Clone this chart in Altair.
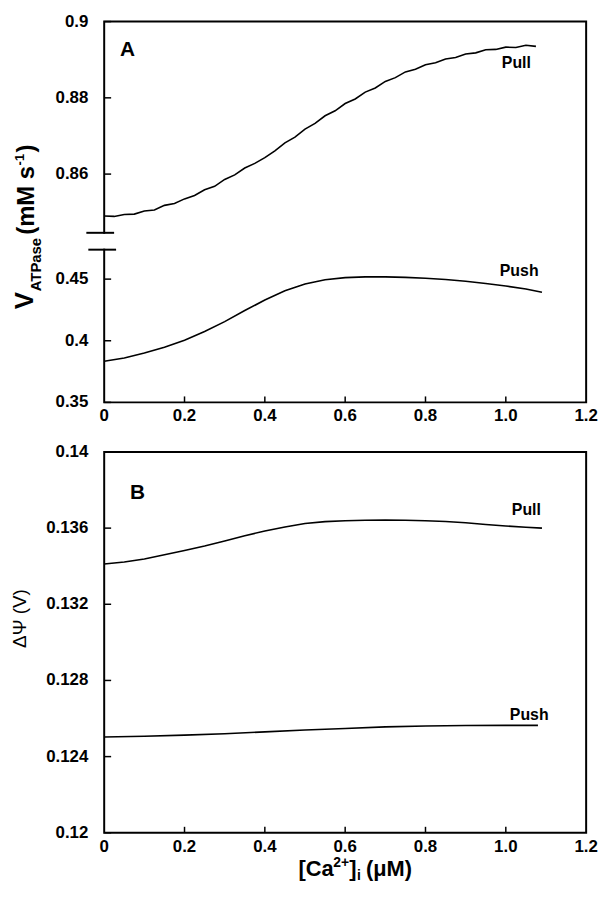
import altair as alt
import pandas as pd

FONT = "Liberation Sans"

# ---------------- data ----------------
x_ticks = [0, 0.2, 0.4, 0.6, 0.8, 1.0, 1.2]
x_labels = ["0", "0.2", "0.4", "0.6", "0.8", "1.0", "1.2"]
x_inner_ticks = [0.2, 0.4, 0.6, 0.8, 1.0]
yA_ticks = [0.35, 0.4, 0.45, 0.86, 0.88, 0.9]
yA_labels = ["0.35", "0.4", "0.45", "0.86", "0.88", "0.9"]
yB_ticks = [0.12, 0.124, 0.128, 0.132, 0.136, 0.14]
yB_labels = ["0.12", "0.124", "0.128", "0.132", "0.136", "0.14"]

# Panel A, "Pull" (V_ATPase, mM/s)
pullA_x = [0.000, 0.025, 0.050, 0.075, 0.100, 0.125, 0.150, 0.175, 0.200, 0.225,
           0.250, 0.275, 0.300, 0.325, 0.350, 0.375, 0.400, 0.425, 0.450, 0.475,
           0.500, 0.525, 0.550, 0.575, 0.600, 0.625, 0.650, 0.675, 0.700, 0.725,
           0.750, 0.775, 0.800, 0.825, 0.850, 0.875, 0.900, 0.925, 0.950, 0.975,
           1.000, 1.025, 1.050, 1.075]
pullA_v = [0.8490, 0.8489, 0.8494, 0.8495, 0.8503, 0.8506, 0.8518, 0.8523, 0.8535, 0.8544,
           0.8559, 0.8568, 0.8586, 0.8598, 0.8616, 0.8628, 0.8643, 0.8661, 0.8682, 0.8697,
           0.8718, 0.8733, 0.8753, 0.8766, 0.8785, 0.8797, 0.8815, 0.8826, 0.8843, 0.8853,
           0.8868, 0.8875, 0.8887, 0.8892, 0.8902, 0.8906, 0.8915, 0.8918, 0.8926, 0.8927,
           0.8933, 0.8932, 0.8938, 0.8935]

# Panel A, "Push"
pushA_x = [0.00, 0.05, 0.10, 0.15, 0.20, 0.25, 0.30, 0.35, 0.40, 0.45, 0.50, 0.55,
           0.60, 0.65, 0.70, 0.75, 0.80, 0.85, 0.90, 0.95, 1.00, 1.05, 1.09]
pushA_v = [0.3834, 0.3860, 0.3900, 0.3948, 0.4005, 0.4075, 0.4155, 0.4245, 0.4330, 0.4405,
           0.4460, 0.4495, 0.4512, 0.4518, 0.4518, 0.4514, 0.4507, 0.4497, 0.4483, 0.4465,
           0.4444, 0.4420, 0.4393]

# Panel B, "Pull" (delta Psi, V)
pullB_x = [0.00, 0.05, 0.10, 0.15, 0.20, 0.25, 0.30, 0.35, 0.40, 0.45, 0.50, 0.55,
           0.60, 0.65, 0.70, 0.75, 0.80, 0.85, 0.90, 0.95, 1.00, 1.05, 1.09]
pullB_v = [0.13412, 0.13422, 0.13438, 0.13460, 0.13483, 0.13506, 0.13532, 0.13560,
           0.13585, 0.13606, 0.13624, 0.13634, 0.13639, 0.13641, 0.13642, 0.13641,
           0.13639, 0.13635, 0.13628, 0.13619, 0.13611, 0.13605, 0.13600]

# Panel B, "Push"
pushB_x = [0.00, 0.10, 0.20, 0.30, 0.40, 0.50, 0.60, 0.70, 0.80, 0.90, 1.00, 1.08]
pushB_v = [0.12503, 0.12507, 0.12513, 0.12520, 0.12530, 0.12540, 0.12548, 0.12556,
           0.12561, 0.12563, 0.12564, 0.12564]

# curve labels: text, x, y (data units)
labA_text = ["Pull", "Push"]
labA_x = [0.99, 0.985]
labA_y = [0.8877, 0.4524]
labB_text = ["Pull", "Push"]
labB_x = [1.015, 1.01]
labB_y = [0.13667, 0.12590]

# ---------------- layout ----------------
W, H = 486, 384
GAP = 50
BRK_TOP, BRK_BOT = 213, 230          # pixel rows of the axis break in panel A
A_lo_max, A_hi_min = 0.4739, 0.8446  # values at the break rows

xscale = alt.Scale(domain=[0, 1.2], nice=False, zero=False)
yscaleA = alt.Scale(domain=[0.35, A_lo_max, A_hi_min, 0.9],
                    range=[H, BRK_BOT, BRK_TOP, 0], nice=False, zero=False)
yscaleB = alt.Scale(domain=[0.12, 0.14], nice=False, zero=False)

one = pd.DataFrame({"k": [0]})
LBL = dict(font=FONT, fontSize=17, fontWeight="bold", color="black")


def txt(s, x, y, size, weight="bold", angle=0, align="left", baseline="alphabetic"):
    kw = dict(text=s, font=FONT, fontSize=size, fontWeight=weight, color="black",
              align=align, baseline=baseline)
    if angle:
        kw["angle"] = angle
    return alt.Chart(one).mark_text(**kw).encode(x=alt.value(x), y=alt.value(y))


def panel(df, yscale, yticks, ylabels, labs):
    lines = alt.Chart(df).mark_line(color="black", strokeWidth=1.6).encode(
        x=alt.X("x:Q", scale=xscale, axis=None),
        y=alt.Y("v:Q", scale=yscale, axis=None),
        detail="series:N",
    )
    xt = alt.Chart(pd.DataFrame({"t": x_inner_ticks})).mark_rule(
        color="black", strokeWidth=1.5).encode(
        x=alt.X("t:Q", scale=xscale, axis=None),
        y=alt.value(H), y2=alt.value(H - 6))
    yt = alt.Chart(pd.DataFrame({"t": yticks})).mark_rule(
        color="black", strokeWidth=1.5).encode(
        y=alt.Y("t:Q", scale=yscale, axis=None),
        x=alt.value(0), x2=alt.value(7))
    xl = alt.Chart(pd.DataFrame({"t": x_ticks, "s": x_labels})).mark_text(
        align="center", baseline="top", **LBL).encode(
        x=alt.X("t:Q", scale=xscale, axis=None),
        y=alt.value(H + 6), text="s:N")
    yl = alt.Chart(pd.DataFrame({"t": yticks, "s": ylabels})).mark_text(
        align="right", baseline="middle", **LBL).encode(
        y=alt.Y("t:Q", scale=yscale, axis=None),
        x=alt.value(-16), text="s:N")
    labels = alt.Chart(labs).mark_text(
        font=FONT, fontSize=16, fontWeight="bold", color="black",
        align="left", baseline="alphabetic").encode(
        x=alt.X("lx:Q", scale=xscale, axis=None),
        y=alt.Y("ly:Q", scale=yscale, axis=None),
        text="lab:N")
    return [lines, xt, yt, xl, yl, labels]


dfA = pd.concat([
    pd.DataFrame({"x": pullA_x, "v": pullA_v, "series": "Pull"}),
    pd.DataFrame({"x": pushA_x, "v": pushA_v, "series": "Push"}),
])
dfB = pd.concat([
    pd.DataFrame({"x": pullB_x, "v": pullB_v, "series": "Pull"}),
    pd.DataFrame({"x": pushB_x, "v": pushB_v, "series": "Push"}),
])
labsA = pd.DataFrame({"lab": labA_text, "lx": labA_x, "ly": labA_y})
labsB = pd.DataFrame({"lab": labB_text, "lx": labB_x, "ly": labB_y})

# axis break in panel A: white gap over the frame plus two short dashes
breakA = [
    alt.Chart(one).mark_rect(color="white").encode(
        x=alt.value(-3), x2=alt.value(3),
        y=alt.value(BRK_TOP + 1), y2=alt.value(BRK_BOT - 1)),
    alt.Chart(one).mark_rule(color="black", strokeWidth=2).encode(
        x=alt.value(-18), x2=alt.value(10), y=alt.value(BRK_TOP)),
    alt.Chart(one).mark_rule(color="black", strokeWidth=2).encode(
        x=alt.value(-16), x2=alt.value(12), y=alt.value(BRK_BOT)),
]

titleA = [
    txt("V", -72, 290, 26, angle=270),
    txt("ATPase", -64, 272, 15, angle=270),
    txt("(mM s", -71, 215, 24, angle=270),
    txt("-1", -81, 145, 13, angle=270),
    txt(")", -71, 132, 24, angle=270),
    txt("A", 16, 35, 21),
]

titleB = [
    txt("ΔΨ (V)", -79, 168, 19, weight="normal", angle=270, align="center"),
    txt("B", 26, 47, 21),
    txt("[Ca", 196, H + 44, 22),
    txt("2+", 231, H + 35, 14),
    txt("]", 247, H + 44, 22),
    txt("i", 255, H + 48, 14),
    txt("(μM)", 264, H + 44, 22),
]

panelA = alt.layer(*(panel(dfA, yscaleA, yA_ticks, yA_labels, labsA) + breakA + titleA)
                   ).properties(width=W, height=H)
panelB = alt.layer(*(panel(dfB, yscaleB, yB_ticks, yB_labels, labsB) + titleB)
                   ).properties(width=W, height=H)

chart = alt.vconcat(panelA, panelB, spacing=GAP, bounds="flush").properties(
    padding={"left": 2, "top": 0, "right": 4, "bottom": 0}
).configure_view(stroke="black", strokeWidth=2)

chart.save("out.html", embed_options={"renderer": "svg", "actions": False})
